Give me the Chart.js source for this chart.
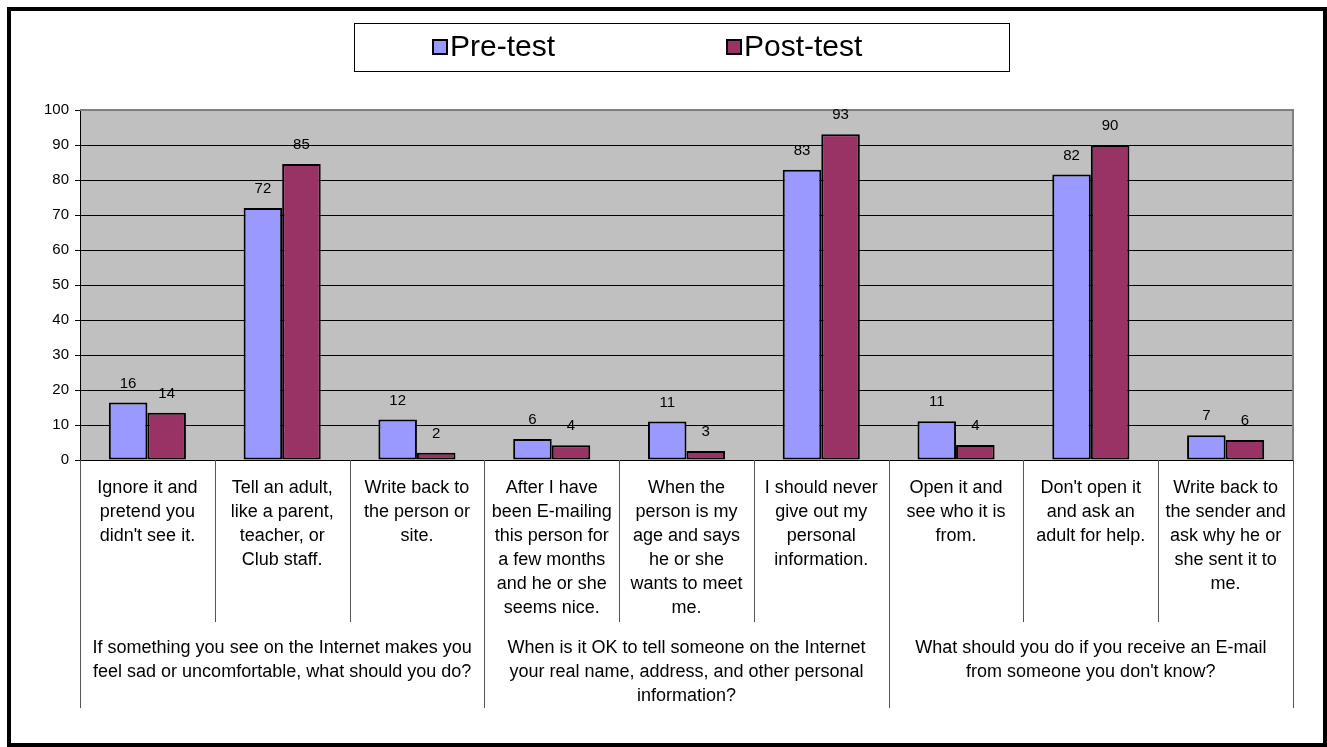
<!DOCTYPE html>
<html><head><meta charset="utf-8">
<script src="https://cdn.jsdelivr.net/npm/chart.js@4/dist/chart.umd.min.js"></script>
<style>html,body{margin:0;padding:0;background:#fff;} canvas{display:block;}</style>
</head><body>
<canvas id="c" width="1327" height="747"></canvas>
<script>
// ---------- data ----------
const categories = [
  ["Ignore it and", "pretend you", "didn't see it."],
  ["Tell an adult,", "like a parent,", "teacher, or", "Club staff."],
  ["Write back to", "the person or", "site."],
  ["After I have", "been E-mailing", "this person for", "a few months", "and he or she", "seems nice."],
  ["When the", "person is my", "age and says", "he or she", "wants to meet", "me."],
  ["I should never", "give out my", "personal", "information."],
  ["Open it and", "see who it is", "from."],
  ["Don't open it", "and ask an", "adult for help."],
  ["Write back to", "the sender and", "ask why he or", "she sent it to", "me."]
];
const groupLabels = [
  ["If something you see on the Internet makes you", "feel sad or uncomfortable, what should you do?"],
  ["When is it OK to tell someone on the Internet", "your real name, address, and other personal", "information?"],
  ["What should you do if you receive an E-mail", "from someone you don't know?"]
];
const groupSpans = [3, 3, 3];
const seriesNames = ["Pre-test", "Post-test"];
const preTest  = [16.4, 72, 11.6, 6, 11, 82.9, 11.1, 81.6, 7.1];
const postTest = [13.5, 84.6, 2.1, 4.2, 2.6, 93.1, 4.3, 90, 5.7];
const yMin = 0, yMax = 100, yStep = 10;

// ---------- styling ----------
const FONT = "'Liberation Sans', Arial, Helvetica, sans-serif";
const colors = ["#9999FF", "#993366"];

const decor = {
  id: 'decor',
  beforeDraw(chart) {
    const {ctx, chartArea: a} = chart;
    ctx.save();
    ctx.fillStyle = '#ffffff';
    ctx.fillRect(0, 0, chart.width, chart.height);
    ctx.fillStyle = '#C0C0C0';
    ctx.fillRect(a.left, a.top, a.right - a.left, a.bottom - a.top);
    ctx.restore();
  },
  beforeDatasetsDraw(chart) {
    const {ctx, chartArea: a} = chart;
    ctx.save();
    ctx.strokeStyle = '#808080';
    ctx.lineWidth = 2;
    ctx.beginPath();
    ctx.moveTo(a.left, a.top);
    ctx.lineTo(a.right, a.top);
    ctx.lineTo(a.right, a.bottom);
    ctx.stroke();
    ctx.restore();
  },
  afterDatasetsDraw(chart) {
    const {ctx} = chart;
    ctx.save();
    ctx.font = '15px ' + FONT;
    ctx.fillStyle = '#000';
    ctx.textAlign = 'center';
    ctx.textBaseline = 'middle';
    chart.data.datasets.forEach((ds, di) => {
      chart.getDatasetMeta(di).data.forEach((bar, i) => {
        ctx.fillText(String(Math.round(ds.data[i])), bar.x, bar.y - 19);
      });
    });
    ctx.restore();
  },
  afterDraw(chart) {
    const {ctx, chartArea: a} = chart;
    const xs = chart.scales.x;
    const w = xs.getPixelForValue(1) - xs.getPixelForValue(0);
    const boundary = k => xs.getPixelForValue(0) - w / 2 + k * w;
    ctx.save();
    // separators
    const groupEdges = new Set([0]);
    let acc = 0;
    groupSpans.forEach(s => { acc += s; groupEdges.add(acc); });
    ctx.strokeStyle = '#555';
    ctx.lineWidth = 1;
    for (let k = 0; k <= categories.length; k++) {
      const x = Math.round(boundary(k)) + 0.5;
      const yEnd = groupEdges.has(k) ? 708 : 622;
      ctx.beginPath();
      ctx.moveTo(x, a.bottom);
      ctx.lineTo(x, yEnd);
      ctx.stroke();
    }
    // group labels
    ctx.font = '18px ' + FONT;
    ctx.fillStyle = '#000';
    ctx.textAlign = 'center';
    ctx.textBaseline = 'middle';
    let start = 0;
    groupLabels.forEach((lines, g) => {
      const cx = (boundary(start) + boundary(start + groupSpans[g])) / 2;
      lines.forEach((t, li) => ctx.fillText(t, cx, 648 + li * 24));
      start += groupSpans[g];
    });
    // legend
    ctx.strokeStyle = '#000';
    ctx.lineWidth = 1;
    ctx.strokeRect(354.5, 23.5, 655, 48);
    const legX = [433, 727];
    ctx.font = '30px ' + FONT;
    ctx.textAlign = 'left';
    seriesNames.forEach((n, i) => {
      ctx.fillStyle = colors[i];
      ctx.fillRect(legX[i], 40, 14, 14);
      ctx.lineWidth = 2;
      ctx.strokeStyle = '#000';
      ctx.strokeRect(legX[i], 40, 14, 14);
      ctx.fillStyle = '#000';
      ctx.fillText(n, legX[i] + 17, 48);
    });
    // outer frame
    ctx.lineWidth = 4;
    ctx.strokeStyle = '#000';
    ctx.strokeRect(9, 9, 1316, 736);
    ctx.restore();
  }
};

new Chart(document.getElementById('c'), {
  type: 'bar',
  data: {
    labels: categories,
    datasets: [
      {label: seriesNames[0], data: preTest, backgroundColor: colors[0], borderColor: '#000', borderWidth: 2, borderSkipped: false},
      {label: seriesNames[1], data: postTest, backgroundColor: colors[1], borderColor: '#000', borderWidth: 2, borderSkipped: false}
    ]
  },
  options: {
    responsive: false,
    animation: false,
    devicePixelRatio: 1,
    layout: {padding: {left: 0, right: 34, top: 110, bottom: 0}},
    datasets: {bar: {categoryPercentage: 0.572, barPercentage: 1}},
    plugins: {legend: {display: false}, tooltip: {enabled: false}},
    scales: {
      x: {
        type: 'category',
        grid: {display: false, drawTicks: false},
        border: {display: true, color: '#000', width: 1},
        ticks: {
          autoSkip: false, maxRotation: 0, minRotation: 0, padding: 16,
          color: '#000', font: {family: FONT, size: 18, lineHeight: '24px'}
        },
        afterFit(s) { s.height = 287; }
      },
      y: {
        min: yMin, max: yMax,
        ticks: {stepSize: yStep, padding: 6, color: '#000', font: {family: FONT, size: 15}},
        grid: {
          color: c => (c.tick && c.tick.value === yMax) ? '#808080' : '#000',
          tickColor: '#000', tickLength: 5, lineWidth: 1
        },
        border: {display: true, color: '#000', width: 1},
        afterFit(s) { s.width = 80; }
      }
    }
  },
  plugins: [decor]
});
</script>
</body></html>
